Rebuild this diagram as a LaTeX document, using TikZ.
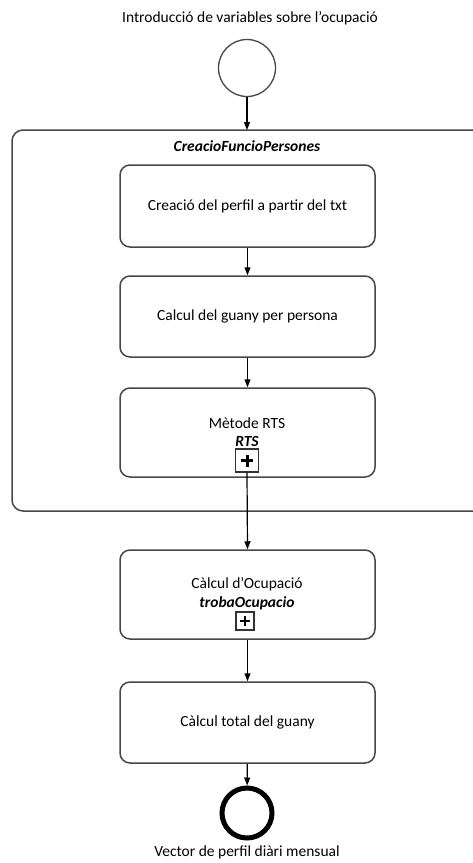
\documentclass[tikz,border=0pt]{standalone}
\usepackage{fontspec}
\setmainfont{Carlito}
\usetikzlibrary{arrows.meta,positioning}
\begin{document}
\begin{tikzpicture}[x=1pt,y=-1pt,
  txt/.style={font=\fontsize{15.5}{18}\selectfont},
  btxt/.style={font=\fontsize{15.5}{18}\selectfont\bfseries\itshape},
  line/.style={draw=black!72, line width=1.5pt},
  task/.style={line, rounded corners=10pt, minimum width=255pt, align=center, txt},
  flow/.style={draw=black, line width=1.2pt, -{Triangle[length=8pt,width=6pt]}},
  plusbox/.style={draw=black!80, line width=1.3pt, inner sep=0pt}
]
\clip (0,0) rectangle (473,863);
\useasboundingbox (0,0) rectangle (473,863);

% start event
\node[txt] (intro) at (250,18) {Introducció de variables sobre l’ocupació};
\node[draw=black!72, line width=1.3pt, circle, minimum size=57pt, inner sep=0pt] (start) at (247,68) {};

% sub-process container
\draw[line, rounded corners=11pt] (484,130) -- (12,130) -- (12,511) -- (484,511);
\coordinate (ctop) at (247,130);
\node[btxt] (cname) at (247,146) {CreacioFuncioPersones};

% tasks
\node[task, minimum height=82pt] (t1) at (247.5,206) {Creació del perfil a partir del txt};
\node[task, minimum height=81pt] (t2) at (247.5,316.5) {Calcul del guany per persona};
\node[task, minimum height=89pt] (t3) at (247.5,432.5) {};
\node[txt] (t3a) at (247,423) {Mètode RTS};
\node[btxt] (t3b) at (247,441) {RTS};
\node[plusbox, minimum size=23pt] (p3) at (247,460.5) {};
\draw[line width=3pt] ([yshift=-6pt]p3.center) -- ([yshift=6pt]p3.center)
  ([xshift=-6pt]p3.center) -- ([xshift=6pt]p3.center);

\node[task, minimum height=89pt] (t4) at (247.5,594.5) {};
\node[txt] (t4a) at (247,584) {Càlcul d’Ocupació};
\node[btxt] (t4b) at (247,603) {trobaOcupacio};
\node[plusbox, minimum size=18pt] (p4) at (245,621) {};
\draw[line width=2.8pt] ([yshift=-5pt]p4.center) -- ([yshift=5pt]p4.center)
  ([xshift=-5pt]p4.center) -- ([xshift=5pt]p4.center);

\node[task, minimum height=81pt] (t5) at (247.5,722.5) {Càlcul total del guany};

% end event
\node[draw=black, line width=5pt, circle, minimum size=50pt, inner sep=0pt] (end) at (247,813) {};
\node[txt] (vec) at (247,852) {Vector de perfil diàri mensual};

% sequence flows
\draw[flow] (start) -- (ctop);
\draw[flow] (t1) -- (t2);
\draw[flow] (t2) -- (t3);
\draw[flow] (p3.south) -- (t4.north);
\draw[flow] (t4) -- (t5);
\draw[flow] (t5) -- (end);
\end{tikzpicture}
\end{document}
